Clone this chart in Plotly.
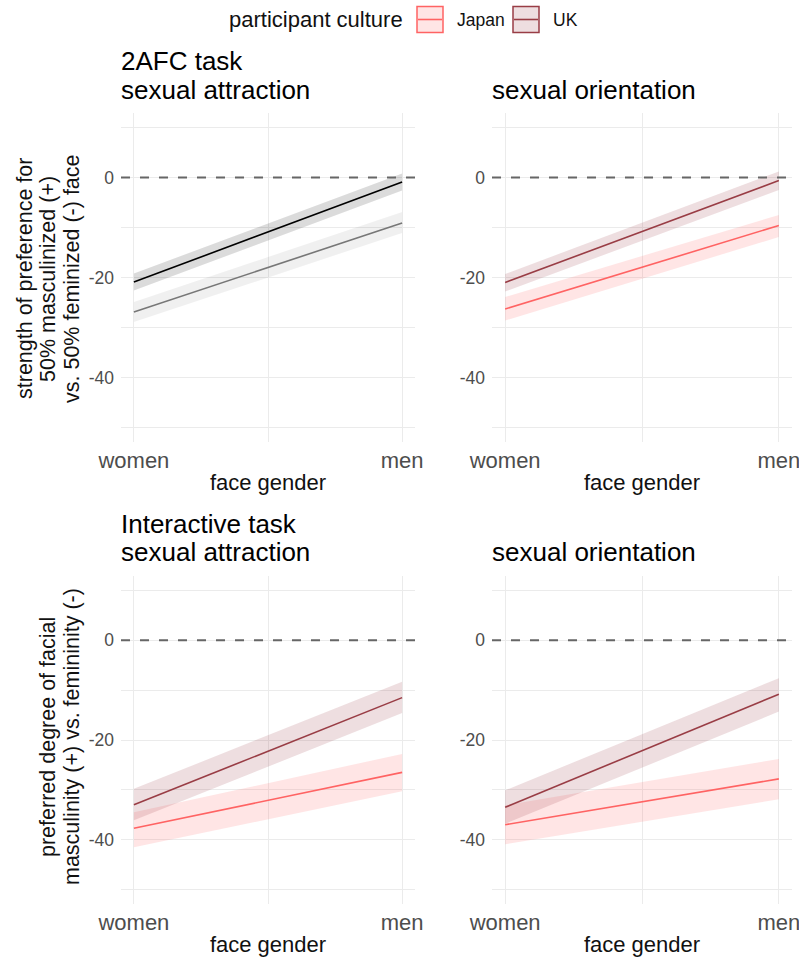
import plotly.graph_objects as go

# ---------------- data ----------------
face_gender = ["women", "men"]
face_pos = [1, 2]
cultures = ["Japan", "UK"]

panel_tasks = ["2AFC task", "", "Interactive task", ""]
panel_subtitles = ["sexual attraction", "sexual orientation", "sexual attraction", "sexual orientation"]

# fitted values [women, men], lower / upper CI
uk_fit = [[-20.9, -0.9], [-21.0, -0.6], [-33.0, -11.5], [-33.5, -10.8]]
uk_lo = [[-22.6, -2.6], [-22.8, -2.5], [-36.1, -14.6], [-36.8, -14.3]]
uk_hi = [[-19.2, 0.8], [-19.3, 1.2], [-29.8, -8.3], [-30.1, -7.6]]

jp_fit = [[-26.9, -9.1], [-26.3, -9.6], [-37.7, -26.5], [-37.0, -27.8]]
jp_lo = [[-28.9, -11.1], [-28.6, -11.9], [-41.5, -30.3], [-40.9, -31.9]]
jp_hi = [[-24.9, -6.9], [-23.9, -7.5], [-34.5, -22.8], [-33.1, -23.8]]

y_ticks = [-40, -20, 0]
y_minor = [-50, -30, -10, 10]
reference_level = 0

y_titles = [
    ["strength of preference for", "50% masculinized (+)", "vs. 50% feminized (-) face"],
    ["preferred degree of facial", "masculinity (+) vs. femininity (-)"],
]

# ---------------- styling ----------------
W, H = 799, 959
FONT = "Liberation Sans, Arial, Helvetica, sans-serif"
JP_LINE, JP_FILL = "#FF6363", "rgba(255,99,99,0.17)"
UK_LINE, UK_FILL = "#993D45", "rgba(153,61,69,0.17)"
GRAY_UK_LINE, GRAY_UK_FILL = "#000000", "rgba(0,0,0,0.14)"
GRAY_JP_LINE, GRAY_JP_FILL = "#777777", "rgba(0,0,0,0.06)"


def px(xp):
    return xp / W


def py(yp):
    return 1 - yp / H


col_dom = [[px(121), px(415)], [px(492), px(792)]]
row_dom = [[py(442), py(113)], [py(904), py(576)]]

fig = go.Figure()

for i in range(4):
    r, c = divmod(i, 2)
    sfx = "" if i == 0 else str(i + 1)
    xa, ya = "x" + sfx, "y" + sfx
    if i == 0:
        cols = [(GRAY_JP_LINE, GRAY_JP_FILL), (GRAY_UK_LINE, GRAY_UK_FILL)]
    else:
        cols = [(JP_LINE, JP_FILL), (UK_LINE, UK_FILL)]
    series = [(jp_fit[i], jp_lo[i], jp_hi[i]), (uk_fit[i], uk_lo[i], uk_hi[i])]
    # bands
    for (lc, fc), (fit, lo, hi), name in zip(cols, series, cultures):
        fig.add_trace(go.Scatter(
            x=face_pos + face_pos[::-1], y=lo + hi[::-1],
            fill="toself", fillcolor=fc, line=dict(width=0), mode="lines",
            hoverinfo="skip", showlegend=False, xaxis=xa, yaxis=ya, name=name))
    # lines
    for (lc, fc), (fit, lo, hi), name in zip(cols, series, cultures):
        fig.add_trace(go.Scatter(
            x=face_pos, y=fit, mode="lines", line=dict(color=lc, width=1.6),
            showlegend=False, xaxis=xa, yaxis=ya, name=name))

    # dashed reference line at 0
    fig.add_shape(type="line", xref=xa + " domain", yref=ya, x0=0, x1=1,
                  y0=reference_level, y1=reference_level,
                  line=dict(color="#666666", width=2, dash="9px,10px"), layer="above")

    xkey = "xaxis" + sfx
    ykey = "yaxis" + sfx
    fig.update_layout({
        xkey: dict(domain=col_dom[c], anchor=ya, range=[0.952, 2.048], automargin=False,
                   tickvals=face_pos, ticktext=face_gender,
                   tickfont=dict(family=FONT, size=22, color="#4d4d4d"),
                   ticklabelstandoff=3, ticklabeloverflow="allow",
                   showgrid=True, gridcolor="#ebebeb", gridwidth=1.4,
                   minor=dict(tickvals=[1.5], showgrid=True, gridcolor="#ebebeb", gridwidth=1),
                   zeroline=False, showline=False, ticks="",
                   title=dict(text="face gender", font=dict(family=FONT, size=22, color="#111"),
                              standoff=2)),
        ykey: dict(domain=row_dom[r], anchor=xa, range=[-52.9, 12.9], automargin=False,
                   tickvals=y_ticks, ticktext=[str(v) for v in y_ticks],
                   tickfont=dict(family=FONT, size=17.5, color="#4d4d4d"),
                   ticklabelstandoff=6,
                   showgrid=True, gridcolor="#ebebeb", gridwidth=1.4,
                   minor=dict(tickvals=y_minor, showgrid=True, gridcolor="#ebebeb", gridwidth=1),
                   zeroline=False, showline=False, ticks=""),
    })

annotations = []
# panel titles
title_x = [121, 492, 121, 492]
row_off = [0, 0, 462, 462]
for i in range(4):
    if panel_tasks[i]:
        annotations.append(dict(text=panel_tasks[i], x=px(title_x[i] - 2), y=py(61.5 + row_off[i]),
                                xref="paper", yref="paper", xanchor="left", yanchor="middle",
                                showarrow=False, font=dict(family=FONT, size=26, color="#000")))
    annotations.append(dict(text=panel_subtitles[i], x=px(title_x[i] - 2), y=py(90 + row_off[i]),
                            xref="paper", yref="paper", xanchor="left", yanchor="middle",
                            showarrow=False, font=dict(family=FONT, size=26, color="#000")))

# y axis titles
yt_x = [[25, 48, 72], [48, 72]]
yt_c = [279, 737]
for r in range(2):
    for line, xx in zip(y_titles[r], yt_x[r]):
        annotations.append(dict(text=line, x=px(xx), y=py(yt_c[r]), xref="paper", yref="paper",
                                xanchor="center", yanchor="middle", textangle=-90,
                                showarrow=False, font=dict(family=FONT, size=21.5, color="#111")))

# legend (manual)
LEG_Y = 19.5
annotations.append(dict(text="participant culture", x=px(405), y=py(LEG_Y), xref="paper", yref="paper",
                        xanchor="right", yanchor="middle", showarrow=False,
                        font=dict(family=FONT, size=22, color="#111")))
leg_items = [("Japan", JP_LINE, JP_FILL, 417, 455), ("UK", UK_LINE, UK_FILL, 513, 551)]
for name, lc, fc, bx, tx in leg_items:
    fig.add_shape(type="rect", xref="paper", yref="paper", x0=px(bx), x1=px(bx + 26),
                  y0=py(LEG_Y + 13), y1=py(LEG_Y - 13), line=dict(color=lc, width=1.5), fillcolor=fc)
    fig.add_shape(type="line", xref="paper", yref="paper", x0=px(bx + 1), x1=px(bx + 25),
                  y0=py(LEG_Y), y1=py(LEG_Y), line=dict(color=lc, width=1.6))
    annotations.append(dict(text=name, x=px(tx), y=py(LEG_Y), xref="paper", yref="paper",
                            xanchor="left", yanchor="middle", showarrow=False,
                            font=dict(family=FONT, size=17.5, color="#111")))

fig.update_layout(
    width=W, height=H, margin=dict(l=0, r=0, t=0, b=0),
    paper_bgcolor="white", plot_bgcolor="white",
    showlegend=False, annotations=annotations,
    font=dict(family=FONT),
)

fig.write_html("out.html", config={"displayModeBar": False},
               post_script="document.body.style.margin='0px';")
